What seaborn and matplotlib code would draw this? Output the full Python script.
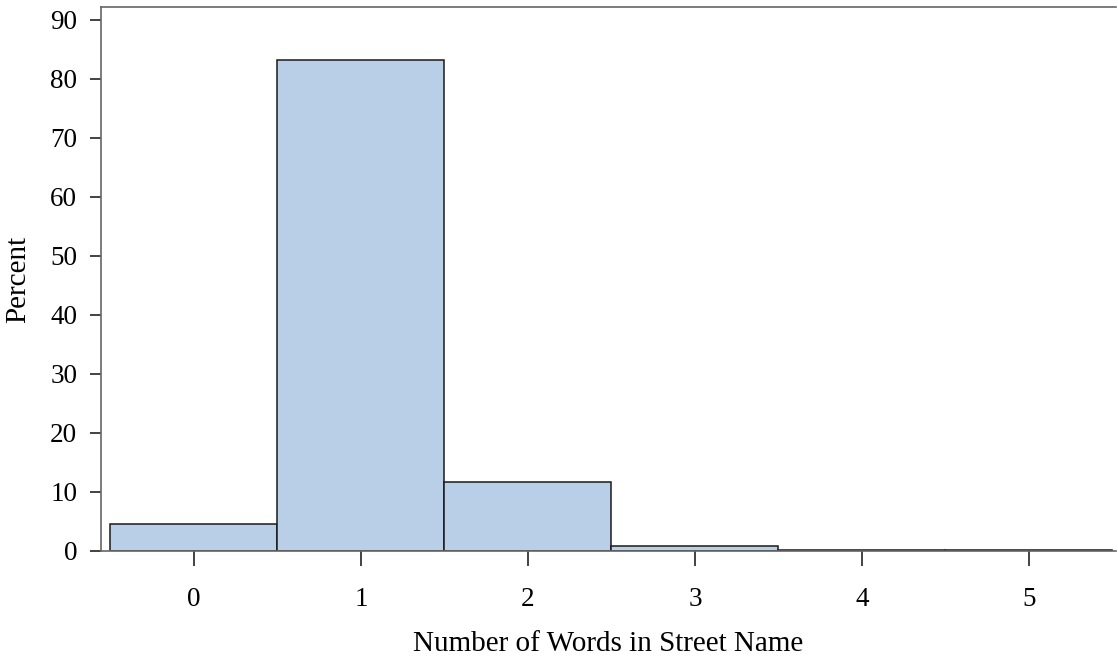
import matplotlib
matplotlib.use('Agg')
import matplotlib.pyplot as plt
import seaborn as sns
import pandas as pd

# valores
palabras = [0, 1, 2, 3, 4, 5]
porcentaje = [4.5, 83.1, 11.6, 0.75, 0.15, 0.1]

df = pd.DataFrame({'palabras': palabras, 'porcentaje': porcentaje})

sns.set_theme(style="white")
plt.rcParams['font.family'] = ['Liberation Serif', 'DejaVu Serif']

fig = plt.figure(figsize=(11.18, 6.63), dpi=100)
ax = fig.add_axes([0.0903, 0.1694, 0.9077, 0.8193])

sns.histplot(data=df, x='palabras', weights='porcentaje', discrete=True, shrink=1,
             color='#B9CFE7', alpha=1, edgecolor='#1a1a1a', linewidth=1.1, ax=ax)

ax.set_xlim(-0.557, 5.52)
ax.set_ylim(0, 92.07)
ax.set_xticks(palabras)
ax.set_yticks(range(0, 91, 10))
ax.set_xlabel('Number of Words in Street Name', fontsize=21, labelpad=14, color='black')
ax.set_ylabel('Percent', fontsize=21, labelpad=14, color='black')
ax.tick_params(axis='both', labelsize=19.5, colors='#222222', labelcolor='black', direction='out')
ax.tick_params(axis='x', length=10.8, width=1.2, pad=15)
ax.tick_params(axis='y', length=8, width=1.2, pad=9)
ax.tick_params(axis='both', bottom=True, left=True)

for s in ax.spines.values():
    s.set_color('#666666')
    s.set_linewidth(1.2)
ax.spines['right'].set_visible(False)

fig.savefig('out.png', dpi=100)
